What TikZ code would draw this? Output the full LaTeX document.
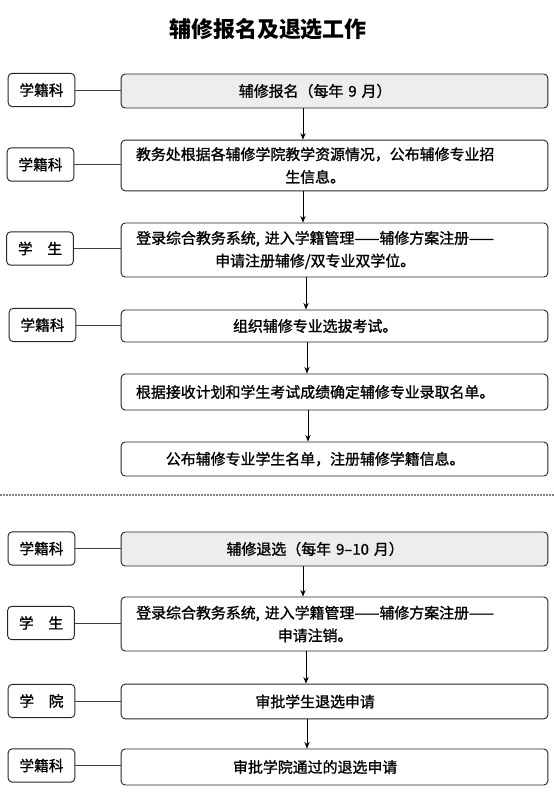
\documentclass[tikz,border=0pt]{standalone}
\usepackage{fontspec}
\setmainfont{Noto Sans CJK SC}
\newfontfamily\boxfont{Noto Sans CJK SC}[FakeBold=1.2]
\usetikzlibrary{arrows.meta}

\tikzset{
  stage/.style={draw=black!85, line width=0.7pt, rounded corners=3pt,
    text width=320pt, inner xsep=0pt, inner ysep=2pt,
    font=\boxfont\fontsize{11.2}{17}\selectfont,
    execute at begin node={\leftskip=0pt plus 1fil\rightskip=29pt plus 1fil\parfillskip=0pt}},
  headstage/.style={stage, fill=black!7},
  role/.style={draw=black!85, line width=0.7pt, rounded corners=3pt,
    minimum width=50pt, minimum height=25pt, inner sep=1pt,
    font=\boxfont\fontsize{11}{13}\selectfont},
  link/.style={draw=black!75, line width=0.7pt},
  flow/.style={draw=black, line width=0.7pt, -{Stealth[length=5pt,width=4pt]}},
}

\begin{document}
\begin{tikzpicture}[x=0.75pt, y=-0.75pt]
    \useasboundingbox (0,0) rectangle (554,794);
    \node[font=\fontsize{16.5}{20}\selectfont\bfseries] (title) at (268,29) {辅修报名及退选工作};

    % registration
    \node[headstage, minimum height=25.5pt] (b1) at (334.5,91) {辅修报名（每年 9 月）};
    \node[stage, minimum height=38pt] (b2) at (334.5,165.5) {教务处根据各辅修学院教学资源情况，公布辅修专业招\\生信息。};
    \node[stage, minimum height=40.5pt] (b3) at (334.5,250) {登录综合教务系统, 进入学籍管理——辅修方案注册——\\申请注册辅修/双专业双学位。};
    \node[stage, minimum height=24pt] (b4) at (334.5,326) {组织辅修专业选拔考试。};
    \node[stage, minimum height=27pt] (b5) at (334.5,392) {根据接收计划和学生考试成绩确定辅修专业录取名单。};
    \node[stage, minimum height=25.5pt] (b6) at (334.5,459) {公布辅修专业学生名单，注册辅修学籍信息。};

    \node[role] (r1) at (41.5,90) {学籍科};
    \node[role] (r2) at (40.5,164.5) {学籍科};
    \node[role] (r3) at (40,248.5) {学\quad 生};
    \node[role] (r4) at (42.5,325) {学籍科};

    \draw[black, line width=1.3pt, line cap=round, dash pattern=on 0pt off 2.25pt] (1,495) -- (554,495);

    % withdrawal
    \node[headstage, minimum height=25.5pt] (b7) at (334.5,549) {辅修退选（每年 9–10 月）};
    \node[stage, minimum height=40.5pt] (b8) at (334.5,624) {登录综合教务系统, 进入学籍管理——辅修方案注册——\\申请注销。};
    \node[stage, minimum height=26pt] (b9) at (334.5,701.5) {审批学生退选申请};
    \node[stage, minimum height=27pt] (b10) at (334.5,767) {审批学院通过的退选申请};

    \node[role] (r7) at (41.5,548.5) {学籍科};
    \node[role] (r8) at (41,623) {学\quad 生};
    \node[role] (r9) at (41.5,701) {学\quad 院};
    \node[role] (r10) at (41.5,765.5) {学籍科};

    \foreach \r/\b in {r1/b1,r2/b2,r3/b3,r4/b4,r7/b7,r8/b8,r9/b9,r10/b10}
        \draw[link] (\r.east) -- (\r.east -| \b.west);

    \foreach \a/\b/\x in {b1/b2/303,b2/b3/303,b3/b4/306,b4/b5/307,b5/b6/308,b7/b8/303,b8/b9/306,b9/b10/307}
        \draw[flow] (\a.south -| \x,0) -- (\b.north -| \x,0);
\end{tikzpicture}
\end{document}
